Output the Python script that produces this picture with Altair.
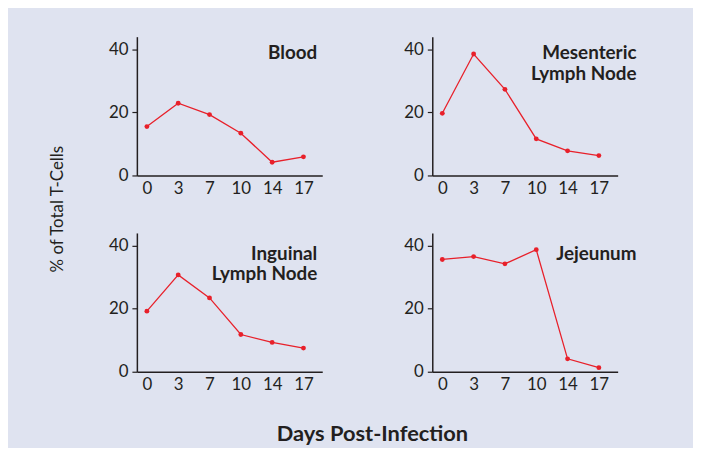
import altair as alt
import pandas as pd

days = ["0", "3", "7", "10", "14", "17"]
panels = ["Blood", "Mesenteric\nLymph Node", "Inguinal\nLymph Node", "Jejeunum"]
blood = [15.5, 22.9, 19.3, 13.4, 4.2, 5.9]
mesenteric = [19.7, 38.5, 27.3, 11.6, 7.8, 6.3]
inguinal = [19.2, 30.7, 23.4, 11.8, 9.3, 7.5]
jejeunum = [35.6, 36.5, 34.2, 38.7, 4.1, 1.3]
series = [blood, mesenteric, inguinal, jejeunum]
y_title = "% of Total T-Cells"
x_title = "Days Post-Infection"

RED = "#e8202a"
INK = "#231f20"
BG = "#dfe3f0"
FONT = "Lato"

label_expr = "[" + ",".join("'%s'" % d for d in days) + "][datum.value]"


def panel(i, title_x, title_y):
    df = pd.DataFrame({"idx": list(range(len(days))), "day": days, "pct": series[i]})
    x = alt.X(
        "idx:Q",
        scale=alt.Scale(domain=[-0.32, 5.6], nice=False, zero=False),
        axis=alt.Axis(
            values=list(range(len(days))), labelExpr=label_expr, ticks=False,
            grid=False, title=None, labelPadding=5, domainColor=INK,
            domainWidth=1.5, labelFontSize=17, labelColor=INK, labelFont=FONT,
        ),
    )
    y = alt.Y(
        "pct:Q",
        scale=alt.Scale(domain=[0, 44], nice=False),
        axis=alt.Axis(
            values=[0, 20, 40], grid=False, title=None, tickSize=5,
            tickColor=INK, tickWidth=1.2, labelPadding=4, domainColor=INK,
            domainWidth=1.5, labelFontSize=17, labelColor=INK, labelFont=FONT,
        ),
    )
    base = alt.Chart(df)
    line = base.mark_line(color=RED, strokeWidth=1.3).encode(x=x, y=y)
    pts = base.mark_point(filled=True, color=RED, size=24, opacity=1).encode(x=x, y=y)
    ttl = alt.Chart(pd.DataFrame({"name": [panels[i]]})).mark_text(
        align="right", baseline="alphabetic", font=FONT, fontWeight="bold",
        fontSize=19, color=INK, lineBreak="\n", lineHeight=20.5,
    ).encode(text="name:N", x=alt.value(title_x), y=alt.value(title_y))
    return alt.layer(line, pts, ttl).properties(width=187, height=140)


grid = alt.concat(
    panel(0, 182, 23), panel(1, 206, 23), panel(2, 182, 27), panel(3, 206, 27),
    columns=2, spacing={"row": 58, "column": 111}, bounds="flush",
    title=alt.TitleParams(
        x_title, orient="bottom", anchor="middle", font=FONT, fontSize=22,
        fontWeight="bold", color=INK, offset=32,
    ),
)

ytitle = alt.Chart(pd.DataFrame({"t": [y_title]})).mark_text(
    angle=270, align="center", baseline="middle", font=FONT, fontSize=17, color=INK,
).encode(text="t:N", x=alt.value(10), y=alt.value(174)).properties(width=20, height=338)

chart = alt.hconcat(ytitle, grid, spacing=70, bounds="flush").configure(
    background=BG, padding={"left": 40, "top": 27, "right": 57, "bottom": 1},
).configure_view(stroke=None, fill=None)

chart.save("out.html", embed_options={"renderer": "svg", "actions": False})
